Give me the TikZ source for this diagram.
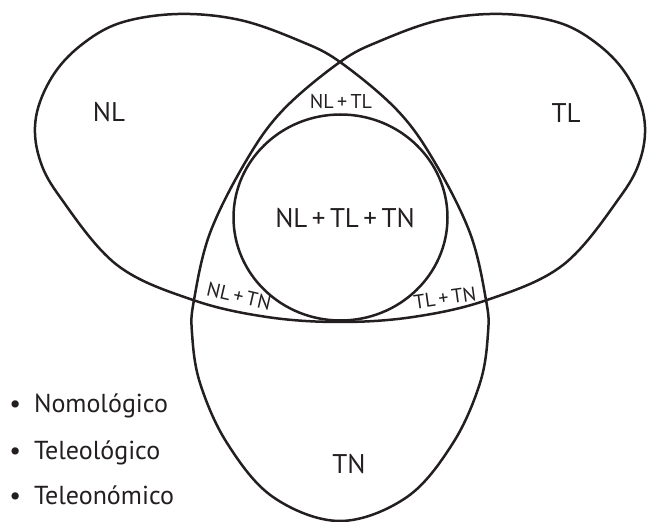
\documentclass[tikz,border=0pt]{standalone}
\usepackage{fontspec}
\setmainfont{PT Sans}
\usetikzlibrary{positioning}
\definecolor{ink}{HTML}{231F20}

\begin{document}
\begin{tikzpicture}[x=1pt,y=1pt,color=ink,line width=2.5pt,
    region/.style={font=\fontsize{27}{30}\selectfont},
    overlap/.style={inner sep=0pt,font=\fontsize{20}{24}\selectfont},
    item/.style={anchor=base west,inner sep=0pt,font=\fontsize{26}{30}\selectfont}]

\useasboundingbox (0,0) rectangle (648,522);

% the three lobes drawn as one closed line
\draw[line join=round] plot[smooth cycle,tension=0.6] coordinates {
    (340,1) (407,25) (453,79) (480,139) (488,189) (486,222) (470,289)
    (434,361) (397,412) (340,460) (300,481) (240,502) (178,508) (120,499)
    (80,476) (52,445) (36,405) (39,365) (60,325) (117,257) (193,222)
    (267,205) (340,200) (413,205) (487,222) (563,257) (620,325) (641,365)
    (644,405) (628,445) (600,476) (560,499) (502,508) (440,502) (380,481)
    (340,460) (283,412) (246,361) (210,289) (194,222) (192,189) (200,139)
    (227,79) (273,25)};

% inner circle
\draw (340.5,304.5) ellipse [x radius=107,y radius=103];

\node[region] (nl) at (109,410) {NL};
\node[region] (tl) at (566,409) {TL};
\node[region] (tn) at (349,58) {TN};
\node[region] (all) at (345,304) {NL\,+\,TL\,+\,TN};

\node[overlap] (nltl) at (341,420) {NL\,+\,TL};
\node[overlap,rotate=-13] (nltn) at (239,226) {NL\,+\,TN};
\node[overlap,rotate=8] (tltn) at (445,224) {TL\,+\,TN};

\node[item] (nomo) at (8,109) {•\hspace{0.5em}Nomológico};
\node[item,below=47pt of nomo.base west,anchor=base west] (teleol) {•\hspace{0.5em}Teleológico};
\node[item,below=45pt of teleol.base west,anchor=base west] (teleon) {•\hspace{0.5em}Teleonómico};

\end{tikzpicture}
\end{document}
